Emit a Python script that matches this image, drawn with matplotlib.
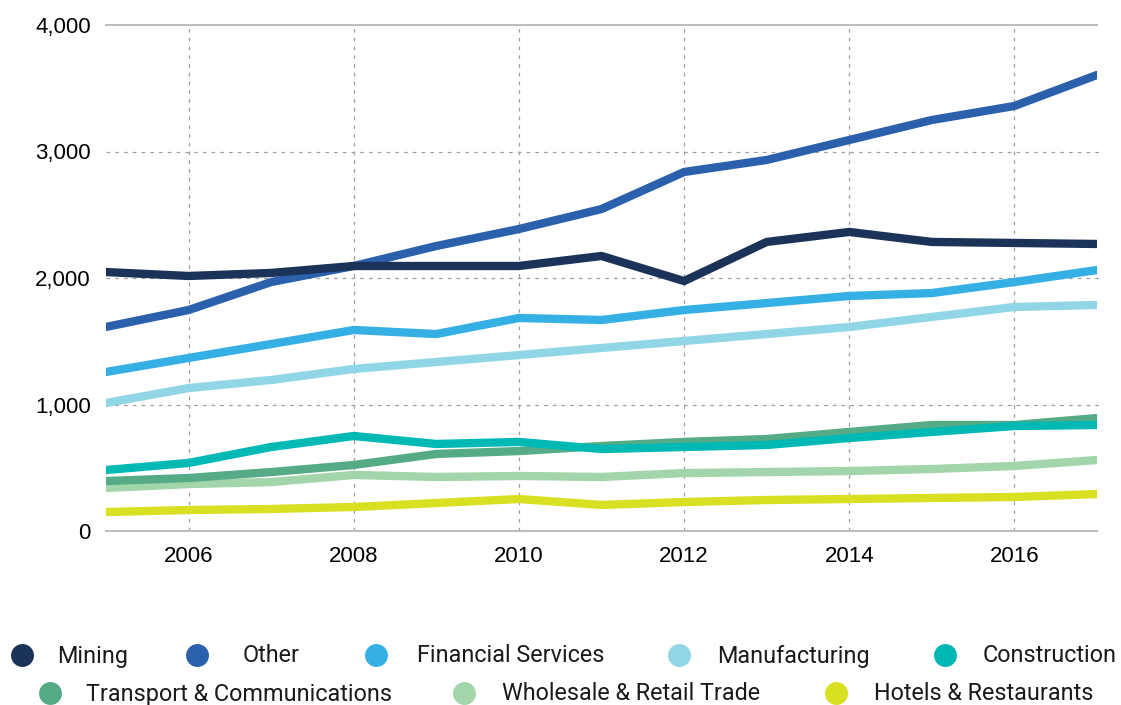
import matplotlib.pyplot as plt
from matplotlib.lines import Line2D

years = list(range(2005, 2018))

mining = [2047, 2016, 2040, 2095, 2095, 2095, 2174, 1976, 2285, 2364, 2285, 2277, 2269]
other = [1613, 1747, 1968, 2095, 2253, 2387, 2545, 2838, 2933, 3091, 3249, 3360, 3605]
financial = [1257, 1368, 1478, 1589, 1557, 1684, 1668, 1747, 1802, 1858, 1881, 1968, 2063]
manufacturing = [1012, 1130, 1194, 1281, 1336, 1391, 1447, 1502, 1557, 1613, 1692, 1771, 1787]
construction = [482, 538, 664, 751, 688, 704, 648, 664, 680, 735, 783, 830, 838]
transport = [395, 419, 466, 522, 609, 632, 672, 704, 727, 783, 838, 838, 893]
wholesale = [340, 371, 387, 443, 427, 435, 427, 458, 466, 474, 490, 514, 561]
hotels = [150, 166, 174, 190, 221, 253, 206, 229, 245, 253, 261, 269, 292]

series = [
    ("Mining", mining, "#1b3358"),
    ("Other", other, "#2b61ac"),
    ("Financial Services", financial, "#35b0e4"),
    ("Manufacturing", manufacturing, "#90d6e6"),
    ("Construction", construction, "#00b9b5"),
    ("Transport & Communications", transport, "#55ab86"),
    ("Wholesale & Retail Trade", wholesale, "#a2d5a9"),
    ("Hotels & Restaurants", hotels, "#d8e021"),
]

plt.rcParams['font.family'] = ['Liberation Sans', 'DejaVu Sans']

W, H = 1121, 705
fig = plt.figure(figsize=(W / 100, H / 100), dpi=100)
ax = fig.add_axes([106 / W, 1 - 531 / H, (1097 - 106) / W, (531 - 25) / H])

# lower series first so the upper ones sit on top like the original
for name, vals, col in reversed(series):
    ax.plot(years, vals, color=col, lw=6, solid_capstyle='round',
            solid_joinstyle='miter', label=name)

ax.set_xlim(2005, 2017)
ax.set_ylim(0, 4000)
ax.set_xticks([2006, 2008, 2010, 2012, 2014, 2016])
ax.set_yticks([0, 1000, 2000, 3000, 4000])
ax.set_yticklabels(['0', '1,000', '2,000', '3,000', '4,000'])
ax.tick_params(length=0, labelsize=16, colors='black')
ax.tick_params(axis='x', pad=11)
ax.tick_params(axis='y', pad=11)

for s in ['left', 'right', 'top']:
    ax.spines[s].set_visible(False)
ax.spines['bottom'].set_color('#bdbdbd')
ax.spines['bottom'].set_linewidth(1.5)
ax.spines['bottom'].set_zorder(0.5)

for x in [2006, 2008, 2010, 2012, 2014, 2016]:
    ax.axvline(x, color='#a0a0a0', lw=0.9, ls=(0, (3, 4)), zorder=0)
for y in [1000, 2000, 3000]:
    ax.axhline(y, color='#a0a0a0', lw=0.9, ls=(0, (3, 4)), zorder=0, xmax=1.005, clip_on=False)
ax.axhline(4000, color='#bdbdbd', lw=1.5, zorder=0, clip_on=False)

# legend, laid out by hand in two rows (pixel positions of marker and text)
leg_marker_x = [22, 197, 376, 679, 945, 50, 464, 836]
leg_text_x = [57, 243, 417, 717, 983, 86, 502, 874]
leg_row_y = [655, 655, 655, 655, 655, 693, 693, 693]
leg_base_y = [662.5, 662.5, 662.5, 662.5, 662.5, 700.5, 700.5, 700.5]

for (name, _, col), mx, tx, my, by in zip(series, leg_marker_x, leg_text_x, leg_row_y, leg_base_y):
    fig.add_artist(Line2D([mx / W], [1 - my / H], transform=fig.transFigure,
                          ls='none', marker='o', markersize=16.5, color=col,
                          markeredgewidth=0))
    fig.text(tx / W, 1 - by / H, name, ha='left', va='baseline', fontsize=16.8,
             family=['Roboto', 'DejaVu Sans'], fontweight='normal', color='#1a1a1a')

fig.savefig('out.png', dpi=100)
